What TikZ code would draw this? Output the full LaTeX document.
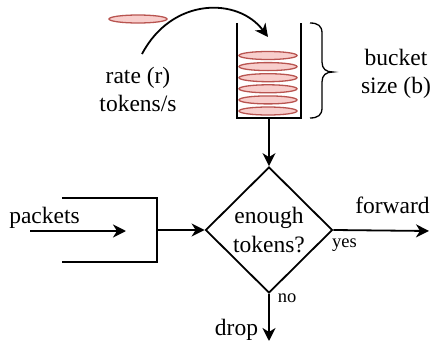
\documentclass[tikz,border=0pt]{standalone}
\usepackage{fontspec}
\setmainfont{Liberation Serif}
\newfontfamily\bucketfont{Liberation Serif}
\usetikzlibrary{shapes.geometric,arrows.meta}
\definecolor{tokenred}{HTML}{B85450}
\definecolor{tokenpink}{HTML}{F8CECC}
\tikzstyle{decision}=[diamond,draw=black,line width=1.8pt,minimum width=127pt,minimum height=126pt,inner sep=0pt,align=center,font=\bucketfont\fontsize{23.5}{29.5}\selectfont]
\tikzstyle{txt}=[inner sep=0pt,align=center,font=\bucketfont\fontsize{23.5}{28}\selectfont]
\tikzstyle{smalltxt}=[inner sep=0pt,font=\bucketfont\fontsize{18.5}{22}\selectfont]
\tikzstyle{token}=[draw=tokenred,fill=tokenpink,line width=1.3pt]
\tikzstyle{wall}=[line width=1.8pt]
\tikzstyle{arrow}=[line width=1.8pt,-{Stealth[length=13pt,width=13pt,inset=4pt]}]
\begin{document}
\begin{tikzpicture}[x=1pt,y=-1pt]
            \useasboundingbox (0,0) rectangle (432,343);
            % bucket with its tokens
            \node (bucket)[minimum width=64pt,minimum height=95pt,inner sep=0pt] at (269,70.5) {};
            \draw [wall] (bucket.north west) -- (bucket.south west) -- (bucket.south east) -- (bucket.north east);
            \foreach \i in {0,...,5}
                \draw [token] (268,55.5+11.1*\i) ellipse (29pt and 4pt);
            \draw [token] (138,19) ellipse (29pt and 4pt);
            % brace
            \draw [line width=1.3pt] (310,23) .. controls (318,23) and (322,26) .. (322,33) -- (322,62)
                .. controls (322,69) and (326,72) .. (333,72) .. controls (326,72) and (322,75) .. (322,82)
                -- (322,108) .. controls (322,115) and (318,118) .. (310,118);
            \node (rate)[txt] at (138,89) {rate (r)\\tokens/s};
            \node (bsize)[txt] at (396,73.5) {bucket\\size (b)};
            \coordinate (rstart) at (142,54);
            \coordinate (rend) at (268,37);
            \draw [arrow] (rstart) .. controls (172,-3) and (238,-3) .. (rend);
            % decision
            \node (check)[decision] at (269,230) {enough\\tokens?};
            \draw [arrow] (bucket.south) -- (check.north);
            % incoming packets
            \node (merge)[minimum width=95pt,minimum height=64pt,inner sep=0pt] at (109.5,230) {};
            \draw [wall] (merge.north west) -- (merge.north east) -- (merge.south east) -- (merge.south west);
            \coordinate (src) at (30,231);
            \coordinate (srcend) at (126,231);
            \draw [arrow] (src) -- (srcend);
            \node (packets)[txt,anchor=base] at (44.5,223) {packets};
            \draw [arrow] (merge.east) -- (check.west);
            % outputs
            \coordinate (out) at (429,231);
            \coordinate (sink) at (269,341);
            \draw [arrow] (check.east) -- (out);
            \draw [arrow] (check.south) -- (sink);
            \node (forward)[txt,anchor=base] at (392.5,213) {forward};
            \node (drop)[txt,anchor=base] at (236.5,335) {drop};
            \node (yes)[smalltxt,anchor=base] at (344.5,247) {yes};
            \node (no)[smalltxt,anchor=base] at (287,302) {no};
        \end{tikzpicture}
\end{document}
